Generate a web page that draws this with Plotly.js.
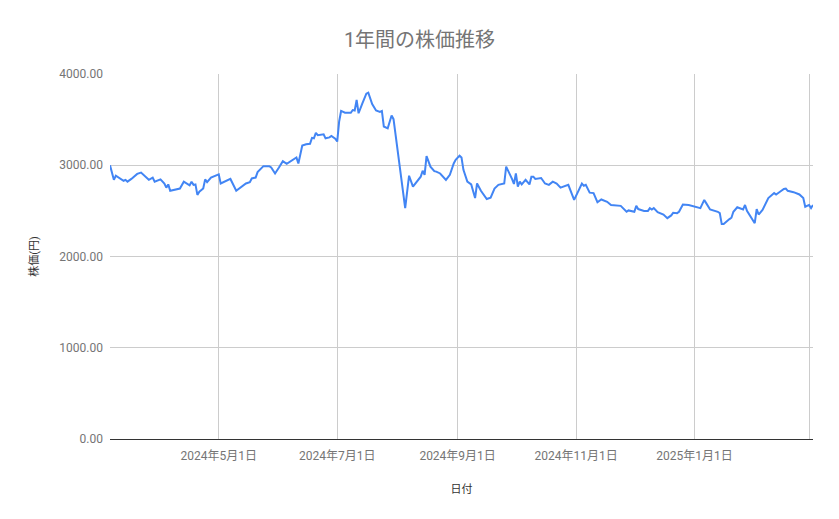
<!DOCTYPE html>
<html>
<head>
<meta charset="utf-8">
<script src="https://cdn.plot.ly/plotly-3.0.1.min.js"></script>
<style>
  html, body { margin: 0; padding: 0; background: #fff; }
  #chart { width: 839px; height: 519px; }
</style>
</head>
<body>
<div id="chart"></div>
<script>
// 日付と終値
var dates = [
  '2024-03-06','2024-03-08','2024-03-09','2024-03-12','2024-03-13','2024-03-14','2024-03-15','2024-03-17',
  '2024-03-20','2024-03-22','2024-03-24','2024-03-26','2024-03-28','2024-03-29',
  '2024-04-01','2024-04-03','2024-04-04','2024-04-05','2024-04-06','2024-04-08','2024-04-11','2024-04-13',
  '2024-04-15','2024-04-16','2024-04-17','2024-04-18','2024-04-19','2024-04-20','2024-04-21','2024-04-23',
  '2024-04-24','2024-04-25','2024-04-27',
  '2024-05-01','2024-05-02','2024-05-04','2024-05-07','2024-05-10','2024-05-13','2024-05-15','2024-05-17',
  '2024-05-18','2024-05-20','2024-05-21','2024-05-24','2024-05-27','2024-05-28','2024-05-30',
  '2024-06-01','2024-06-03','2024-06-05','2024-06-07','2024-06-10','2024-06-11','2024-06-13','2024-06-15',
  '2024-06-17','2024-06-18','2024-06-19','2024-06-20','2024-06-21','2024-06-24','2024-06-25','2024-06-27',
  '2024-06-28','2024-06-30',
  '2024-07-01','2024-07-02','2024-07-03','2024-07-05','2024-07-08','2024-07-09','2024-07-10','2024-07-11',
  '2024-07-12','2024-07-14','2024-07-16','2024-07-17','2024-07-19','2024-07-21','2024-07-23','2024-07-24',
  '2024-07-25','2024-07-27','2024-07-29','2024-07-30',
  '2024-08-02','2024-08-05','2024-08-07','2024-08-09','2024-08-13','2024-08-14','2024-08-15','2024-08-16',
  '2024-08-18','2024-08-20','2024-08-21','2024-08-23','2024-08-26','2024-08-28','2024-08-30','2024-08-31',
  '2024-09-02','2024-09-03','2024-09-04','2024-09-06','2024-09-08','2024-09-10','2024-09-11','2024-09-13',
  '2024-09-16','2024-09-18','2024-09-20','2024-09-22','2024-09-25','2024-09-26','2024-09-29','2024-09-30',
  '2024-10-01','2024-10-02','2024-10-03','2024-10-04','2024-10-06','2024-10-08','2024-10-09','2024-10-10',
  '2024-10-11','2024-10-14','2024-10-16','2024-10-18','2024-10-20','2024-10-22','2024-10-24','2024-10-28',
  '2024-10-31',
  '2024-11-04','2024-11-05','2024-11-06','2024-11-08','2024-11-10','2024-11-12','2024-11-14','2024-11-17',
  '2024-11-19','2024-11-24','2024-11-27','2024-11-28',
  '2024-12-01','2024-12-02','2024-12-03','2024-12-06','2024-12-08','2024-12-09','2024-12-10','2024-12-11',
  '2024-12-13','2024-12-16','2024-12-18','2024-12-20','2024-12-21','2024-12-23','2024-12-24','2024-12-26',
  '2024-12-29',
  '2025-01-04','2025-01-06','2025-01-07','2025-01-09','2025-01-13','2025-01-14','2025-01-15','2025-01-16',
  '2025-01-19','2025-01-20','2025-01-21','2025-01-23','2025-01-26','2025-01-27','2025-01-28',
  '2025-02-01','2025-02-02','2025-02-03','2025-02-05','2025-02-08','2025-02-11','2025-02-12','2025-02-14',
  '2025-02-15','2025-02-16','2025-02-17','2025-02-18','2025-02-21','2025-02-24','2025-02-26','2025-02-27',
  '2025-03-01','2025-03-02','2025-03-03'
];
var prices = [
  3000,2840,2885,2845,2830,2840,2820,2850,
  2905,2920,2880,2840,2865,2820,
  2845,2800,2755,2790,2720,2730,2745,2820,
  2790,2780,2820,2785,2790,2675,2710,2745,
  2845,2815,2865,
  2900,2800,2820,2850,2720,2765,2800,2815,
  2855,2865,2925,2990,2990,2975,2910,
  2975,3045,3015,3040,3085,3020,3215,3230,
  3235,3300,3295,3355,3330,3340,3295,3305,
  3320,3290,
  3260,3480,3595,3575,3575,3605,3600,3715,
  3570,3680,3785,3795,3670,3600,3585,3595,
  3425,3405,3545,3505,
  2985,2530,2885,2765,2875,2940,2895,3100,
  2985,2935,2930,2910,2840,2895,3020,3060,
  3105,3085,2950,2820,2790,2640,2800,2720,
  2630,2645,2745,2785,2800,2985,2850,2795,
  2910,2765,2820,2790,2840,2790,2875,2875,
  2850,2860,2800,2785,2820,2800,2755,2785,
  2620,
  2800,2775,2785,2700,2695,2595,2625,2600,
  2565,2555,2490,2505,
  2490,2555,2520,2500,2500,2530,2515,2530,
  2485,2460,2420,2450,2480,2475,2490,2570,
  2565,
  2530,2620,2585,2515,2490,2475,2355,2355,
  2410,2425,2490,2540,2515,2565,2500,
  2365,2520,2460,2510,2640,2695,2680,2710,
  2730,2740,2745,2720,2705,2680,2640,2545,
  2565,2530,2565
];

var tickDates = ['2024-05-01','2024-07-01','2024-09-01','2024-11-01','2025-01-01','2025-03-01'];
var tickLabels = ['2024年5月1日','2024年7月1日','2024年9月1日','2024年11月1日','2025年1月1日',''];

var fontFamily = "Roboto, 'Noto Sans CJK JP', sans-serif";

var trace = {
  x: dates,
  y: prices,
  type: 'scatter',
  mode: 'lines',
  line: { color: '#4285F4', width: 2 },
  hoverinfo: 'skip'
};

var layout = {
  width: 839,
  height: 519,
  paper_bgcolor: '#ffffff',
  plot_bgcolor: '#ffffff',
  margin: { l: 110, r: 26, t: 74, b: 80 },
  font: { family: fontFamily, color: '#757575', size: 12 },
  showlegend: false,
  title: {
    text: '1年間の株価推移',
    font: { family: fontFamily, size: 20, color: '#757575' },
    x: 0.5,
    xref: 'container',
    xanchor: 'center',
    y: 1 - 40 / 519,
    yref: 'container',
    yanchor: 'middle'
  },
  xaxis: {
    type: 'date',
    range: [dates[0], dates[dates.length - 1]],
    tickmode: 'array',
    tickvals: tickDates,
    ticktext: tickLabels,
    showgrid: true,
    gridcolor: '#cccccc',
    gridwidth: 1,
    zeroline: false,
    showline: true,
    linecolor: '#333333',
    linewidth: 1,
    ticks: '',
    ticklabelstandoff: 6,
    tickfont: { size: 12, color: '#757575' },
    title: {
      text: '日付',
      font: { size: 11, color: '#333333' },
      standoff: 22
    }
  },
  yaxis: {
    range: [0, 4000],
    tickvals: [0, 1000, 2000, 3000, 4000],
    tickformat: '.2f',
    showgrid: true,
    gridcolor: '#cccccc',
    gridwidth: 1,
    zeroline: false,
    showline: false,
    ticks: '',
    ticklabelstandoff: 6,
    tickfont: { size: 12, color: '#757575' },
    title: {
      text: '株価(円)',
      font: { size: 11, color: '#333333' },
      standoff: 18
    }
  }
};

Plotly.newPlot('chart', [trace], layout, { displayModeBar: false, staticPlot: true });
</script>
</body>
</html>
